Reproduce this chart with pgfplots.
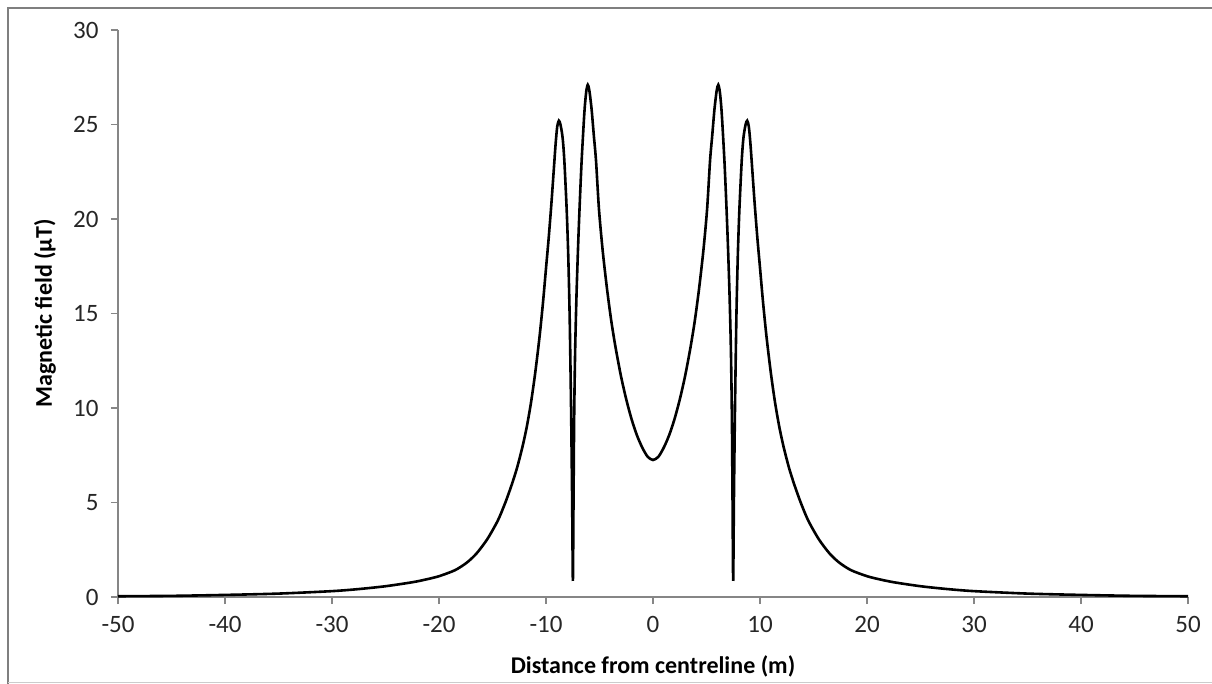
\documentclass[border=0pt]{standalone}
\usepackage{fontspec}
\setmainfont{Carlito}
\usepackage{pgfplots}
\usepackage{pgfplotstable}
\pgfplotsset{compat=1.18}
\definecolor{axisgray}{HTML}{868686}
\definecolor{framegray}{HTML}{7F7F7F}

% field profile
\pgfplotstableread{
x y
-50 0.04
-45 0.06
-40 0.11
-35 0.18
-30 0.31
-27.5 0.42
-25 0.57
-22.5 0.78
-21.2 0.93
-20 1.10
-18.5 1.42
-17.4 1.82
-16.5 2.30
-15.5 3.05
-14.5 4.05
-13.8 5.00
-13.2 5.95
-12.7 6.85
-12.2 7.95
-11.8 9.00
-11.4 10.30
-11.0 11.90
-10.6 13.80
-10.28 15.60
-10.0 17.40
-9.75 19.00
-9.5 20.80
-9.3 22.40
-9.1 24.00
-8.95 24.90
-8.8 25.20
-8.65 25.00
-8.45 24.30
-8.29 23.10
-8.07 20.50
-7.92 18.00
-7.79 14.80
-7.66 10.00
-7.56 5.20
-7.49 0.85
-7.43 5.20
-7.37 9.50
-7.28 13.00
-7.15 16.00
-7.0 18.60
-6.85 20.80
-6.67 23.10
-6.42 25.60
-6.25 26.70
-6.1 27.10
-5.95 26.80
-5.74 25.80
-5.53 24.40
-5.33 23.10
-5.05 20.50
-4.7 18.30
-4.3 16.30
-3.9 14.60
-3.5 13.20
-3.0 11.70
-2.5 10.45
-2.0 9.40
-1.5 8.55
-1.0 7.90
-0.5 7.42
0 7.25
0.5 7.42
1.0 7.90
1.5 8.55
2.0 9.40
2.5 10.45
3.0 11.70
3.5 13.20
3.9 14.60
4.3 16.30
4.7 18.30
5.05 20.50
5.33 23.10
5.53 24.40
5.74 25.80
5.95 26.80
6.1 27.10
6.25 26.70
6.42 25.60
6.67 23.10
6.85 20.80
7.0 18.60
7.15 16.00
7.28 13.00
7.37 9.50
7.43 5.20
7.49 0.85
7.56 5.20
7.66 10.00
7.79 14.80
7.92 18.00
8.07 20.50
8.29 23.10
8.45 24.30
8.65 25.00
8.8 25.20
8.95 24.90
9.1 24.00
9.3 22.40
9.5 20.80
9.75 19.00
10.0 17.40
10.28 15.60
10.6 13.80
11.0 11.90
11.4 10.30
11.8 9.00
12.2 7.95
12.7 6.85
13.2 5.95
13.8 5.00
14.5 4.05
15.5 3.05
16.5 2.30
17.4 1.82
18.5 1.42
20 1.10
21.2 0.93
22.5 0.78
25 0.57
27.5 0.42
30 0.31
35 0.18
40 0.11
45 0.06
50 0.04
}\fielddata

\begin{document}
\begin{tikzpicture}
\path[use as bounding box] (0,0) rectangle (1212bp,684bp);
\draw[framegray, line width=2.2bp] (8bp,0) -- (8bp,676bp) -- (1212bp,676bp);
\draw[framegray!40, line width=1bp] (8bp,1.5bp) -- (1212bp,1.5bp);
\begin{axis}[
    at={(118bp,87bp)}, anchor=south west,
    scale only axis, width=1070bp, height=567bp,
    xmin=-50, xmax=50, ymin=0, ymax=30,
    xtick={-50,-40,...,50}, ytick={0,5,...,30},
    axis lines=left, axis line style={axisgray, line width=1.2bp, -},
    tick align=outside, major tick length=7bp,
    tick style={axisgray, line width=1.2bp},
    /pgf/number format/assume math mode=true,
    ticklabel style={font=\fontsize{25bp}{27bp}\selectfont, text=black!85},
    xticklabel style={yshift=-9bp},
    yticklabel style={xshift=-9bp},
    xlabel={Distance from centreline (m)},
    ylabel={Magnetic field (µT)},
    label style={font=\fontsize{24bp}{26bp}\selectfont\bfseries},
    xlabel style={at={(axis description cs:0.5,0)}, anchor=base, yshift=-76bp},
    ylabel style={at={(axis description cs:0,0.5)}, anchor=center, yshift=73bp},
    clip=false,
]
\addplot[black, line width=2.6bp, smooth, tension=0.45] table {\fielddata};
\end{axis}
\end{tikzpicture}
\end{document}
